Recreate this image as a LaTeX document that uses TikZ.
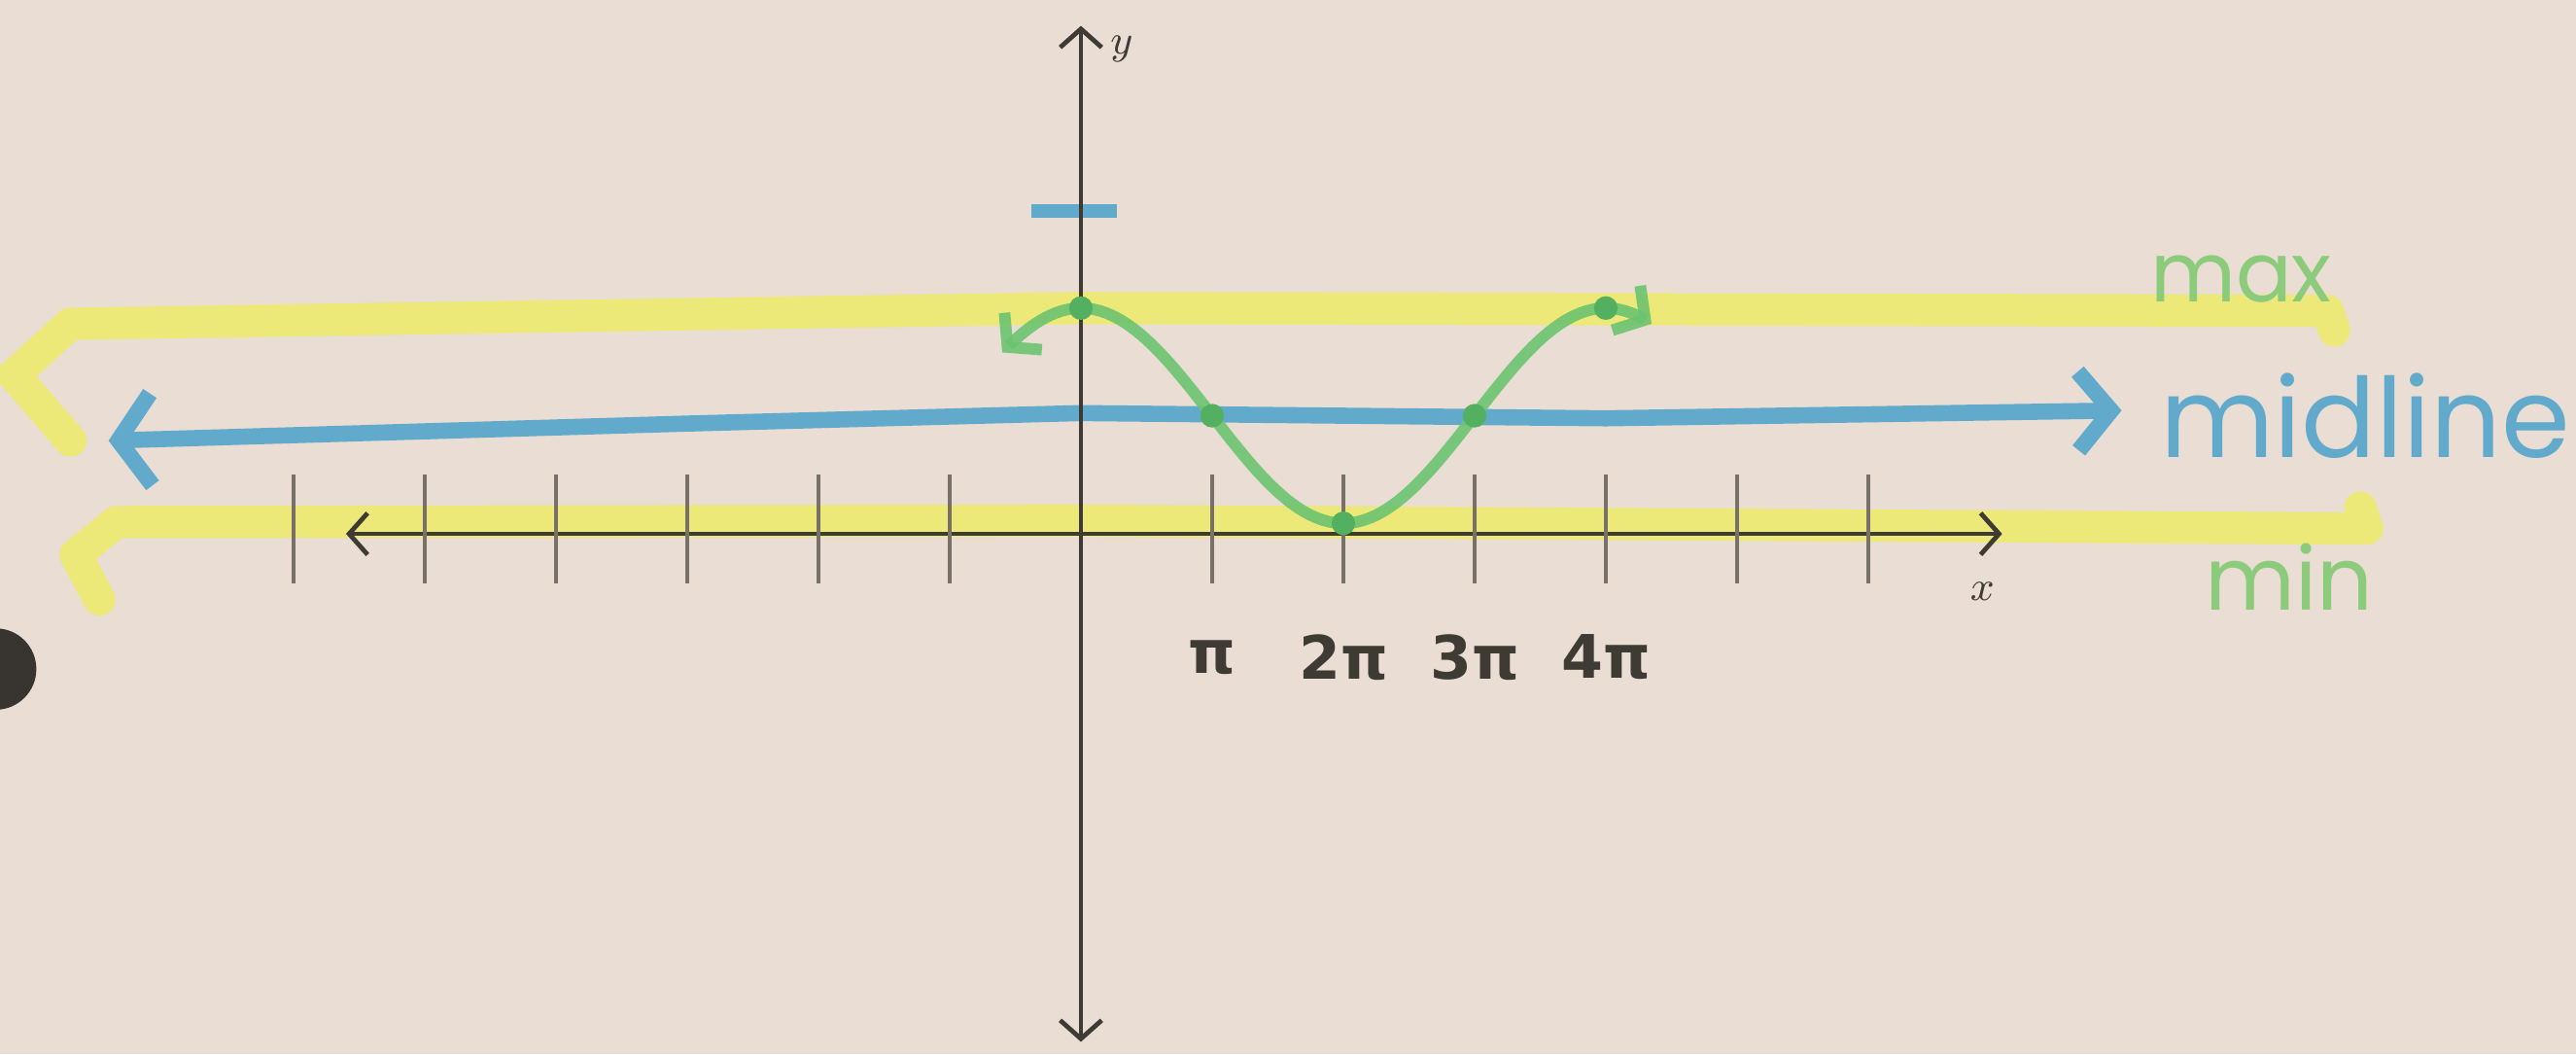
\documentclass[tikz,border=0pt]{standalone}
\usepackage{fontspec}
\newfontfamily\handsans{Poppins}
\newfontfamily\labelfont{DejaVu Sans}
\usetikzlibrary{arrows.meta}
\definecolor{paper}{HTML}{E9DDD4}
\definecolor{hiyellow}{HTML}{EEEC62}
\definecolor{midblue}{HTML}{62AACB}
\definecolor{wavegreen}{HTML}{6CC470}
\definecolor{dotgreen}{HTML}{52B060}
\definecolor{labelgreen}{HTML}{8CCB7C}
\definecolor{pencil}{HTML}{3E3A34}
\definecolor{tickgray}{HTML}{77716A}
\tikzset{
  axisline/.style={pencil, line width=1pt},
  tickmark/.style={tickgray, line width=0.7pt},
  highlight/.style={hiyellow, line width=7pt, line cap=round, line join=round, opacity=0.8},
  midline/.style={midblue, line width=3.5pt, line cap=round, line join=round,
    arrows={Straight Barb[length=2.5mm,width=7mm]-Straight Barb[length=2.5mm,width=6mm]}},
  wave/.style={wavegreen, line width=2.5pt, line cap=round, opacity=0.9,
    arrows={Straight Barb[length=1.7mm,width=4mm]-Straight Barb[length=1.7mm,width=4mm]}},
}
\begin{document}
\begin{tikzpicture}[>={Straight Barb[length=4pt,width=9pt]}]
    \fill[paper] (-8.237,-3.963) rectangle (11.393,4.067);
    \useasboundingbox (-8.237,-3.963) rectangle (11.393,4.067);
    % max and min highlights
    \draw[highlight] (9.55,1.55) -- (9.5,1.7) -- (0,1.72) -- (-7.7,1.6) -- (-8.13,1.21) -- (-7.7,0.71);
    \draw[highlight] (9.75,0.2) -- (9.8,0.04) -- (0,0.1) -- (-7.35,0.09) -- (-7.66,-0.16) -- (-7.48,-0.5);
    % midline
    \draw[midline] (-7.41,0.71) -- (-3,0.84) -- (0,0.92) -- (4,0.88) -- (7.93,0.94);
    \draw[midblue, line width=3pt] (-0.375,2.46) -- (0.275,2.46);
    % axes
    \draw[axisline, <->] (-5.6,0) -- (7.02,0);
    \draw[axisline, <->] (0,-3.87) -- (0,3.87);
    \foreach \i in {-6,...,-1,1,2,...,6}
        \draw[tickmark] (\i,-0.38) -- (\i,0.45);
    \node[pencil] (ylab) at (0.31,3.69) {\small$y$};
    \node[pencil] (xlab) at (6.87,-0.44) {\small$x$};
    \foreach \i/\t in {1/π, 2/2π, 3/3π, 4/4π}
        \node[pencil, font=\labelfont\bfseries\fontsize{13}{13}\selectfont] (pi\i) at (\i,-0.94) {\t};
    % the wave
    \draw[wave, domain=-0.6:4.35, samples=100]
        plot (\x, {0.9+0.82*cos(90*\x)});
    \foreach \i in {0,...,4}
        \fill[dotgreen] (\i, {0.9+0.82*cos(90*\i)}) circle (0.09);
    % labels
    \node[labelgreen, font=\handsans\fontsize{18}{18}\selectfont] (maxlab) at (8.84,1.94) {max};
    \node[midblue, anchor=west, inner sep=0pt, font=\handsans\fontsize{24}{24}\selectfont] (midlab) at (8.22,0.9) {midline};
    \node[labelgreen, font=\handsans\fontsize{19}{19}\selectfont] (minlab) at (9.21,-0.33) {min};
    % punch hole
    \fill[pencil!90!black] (-8.27,-1.03) circle (0.31);
\end{tikzpicture}
\end{document}
